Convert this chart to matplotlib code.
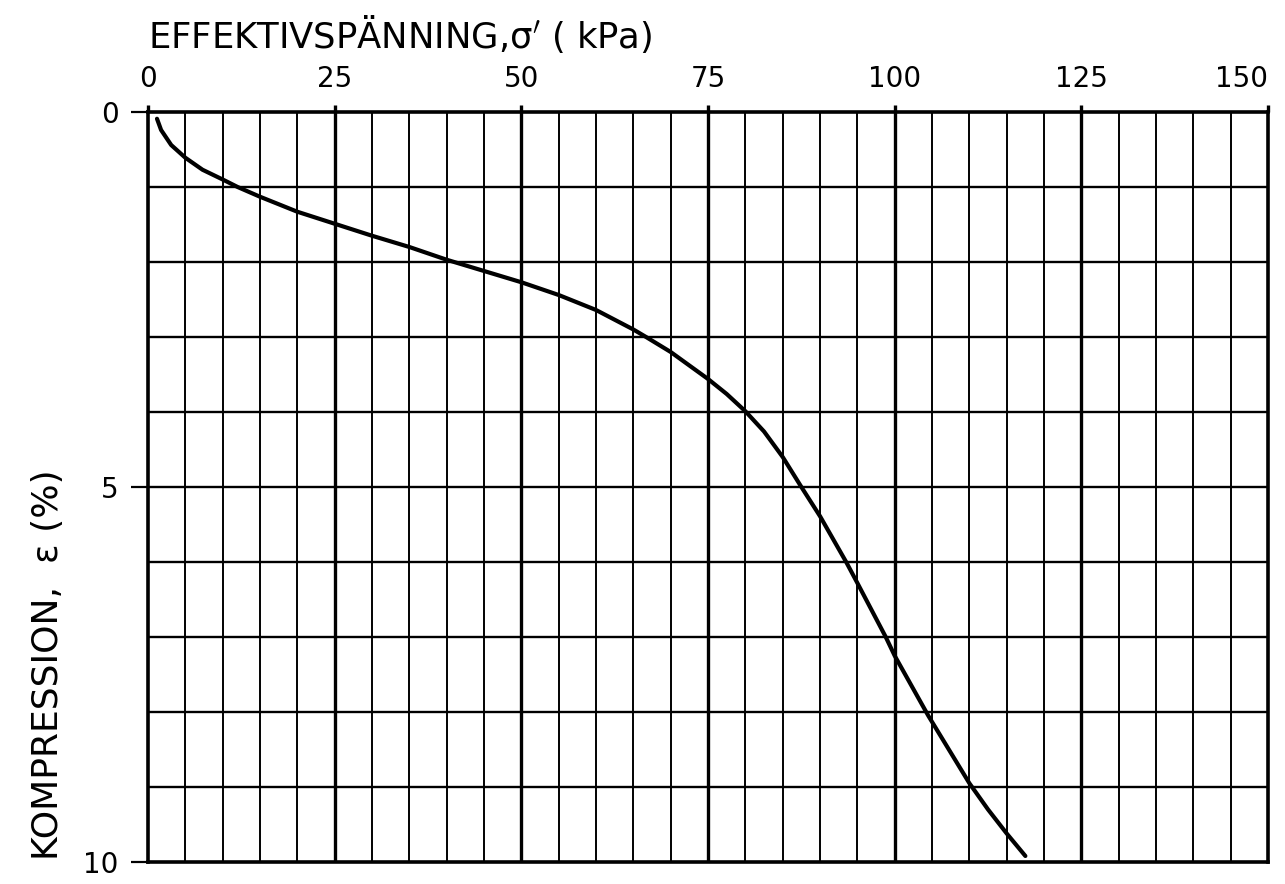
import numpy as np
import matplotlib
matplotlib.use("Agg")
from matplotlib import pyplot as plt

# effective stress (kPa) and compression (%)
stress = [1.2, 1.75, 3.1, 5, 7.3, 10, 12, 15, 20, 25, 30, 35, 40, 45, 50,
          55, 60, 65, 66.7, 70, 72.5, 75, 77.5, 80, 82.5, 85, 87.5, 90, 93.5,
          95, 98.8, 100, 104.5, 110, 112.5, 115, 117.5]
compression = [0.09, 0.24, 0.44, 0.61, 0.77, 0.9, 1.0, 1.13, 1.33, 1.49, 1.65,
               1.8, 1.97, 2.12, 2.27, 2.44, 2.64, 2.9, 3.0, 3.2, 3.38, 3.56,
               3.76, 3.99, 4.26, 4.6, 5.0, 5.39, 6.0, 6.28, 7.0, 7.25, 8.05,
               8.95, 9.3, 9.62, 9.92]

x_ticks = [0, 25, 50, 75, 100, 125, 150]
y_ticks = [0, 5, 10]

fig = plt.figure(figsize=(12.85, 8.84), dpi=100)
ax = fig.add_axes([0.1152, 0.0249, 0.8716, 0.8484])

ax.set_xlim(0, 150)
ax.set_ylim(10, 0)

# grid: thin every 5 kPa, thick every 25 kPa, every 1 % vertically
for xv in np.arange(5, 150, 5):
    lw = 2.4 if xv % 25 == 0 else 1.4
    ax.axvline(xv, color='black', lw=lw, zorder=1)
for yv in np.arange(1, 10, 1):
    ax.axhline(yv, color='black', lw=1.7, zorder=1)

ax.plot(stress, compression, color='black', lw=3.0, zorder=3,
        solid_capstyle='round', solid_joinstyle='round')

for s in ax.spines.values():
    s.set_linewidth(2.6)

ax.xaxis.tick_top()
ax.set_xticks(x_ticks)
ax.set_xticklabels([str(v) for v in x_ticks], fontsize=20)
ax.tick_params(axis='x', direction='out', length=5, width=2.4, pad=9)
ax.get_xticklabels()[-1].set_horizontalalignment('right')
ax.set_yticks(y_ticks)
ax.set_yticklabels([str(v) for v in y_ticks], fontsize=20)
ax.tick_params(axis='y', direction='out', length=12, width=1.6, pad=9)

fig.text(0.1152, 0.962, "EFFEKTIVSPÄNNING,σ$'$ ( kPa)", fontsize=25.5,
         ha='left', va='center')
ax.set_ylabel("KOMPRESSION,  ε (%)", fontsize=26)
ax.yaxis.set_label_coords(-0.074, 0.263)

fig.savefig("out.png", dpi=100)
